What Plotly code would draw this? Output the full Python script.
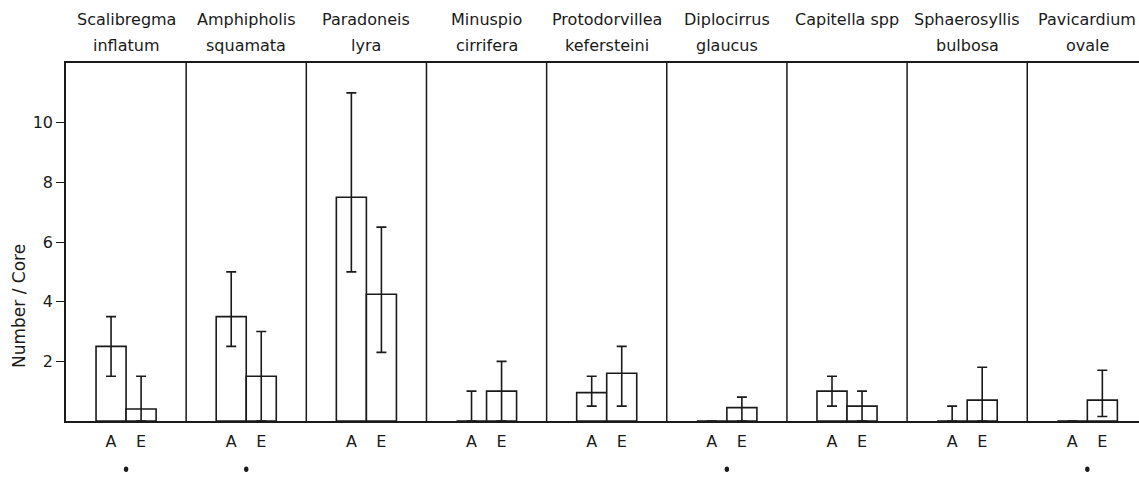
import plotly.graph_objects as go

# ---- data ----
species = ["Scalibregma<br>inflatum", "Amphipholis<br>squamata", "Paradoneis<br>lyra",
           "Minuspio<br>cirrifera", "Protodorvillea<br>kefersteini", "Diplocirrus<br>glaucus",
           "Capitella spp", "Sphaerosyllis<br>bulbosa", "Pavicardium<br>ovale"]
groups = ["A", "E"]

A_mean = [2.5, 3.5, 7.5, 0.0, 0.95, 0.0, 1.0, 0.0, 0.0]
A_low = [1.5, 2.5, 5.0, 0.0, 0.5, 0.0, 0.5, 0.0, 0.0]
A_high = [3.5, 5.0, 11.0, 1.0, 1.5, 0.0, 1.5, 0.5, 0.0]

E_mean = [0.4, 1.5, 4.25, 1.0, 1.6, 0.45, 0.5, 0.7, 0.7]
E_low = [0.0, 0.0, 2.3, 0.0, 0.5, 0.0, 0.0, 0.0, 0.15]
E_high = [1.5, 3.0, 6.5, 2.0, 2.5, 0.8, 1.0, 1.8, 1.7]

marked = [0, 1, 5, 8]          # panels with a marker below (cut off at image edge)
y_ticks = [2, 4, 6, 8, 10]

INK = "#1a1a1a"
FONT = "DejaVu Sans"
n = len(species)
offsets = [0.375, 0.625]
bar_w = 0.25

fig = go.Figure()
for g, off, mean, lo, hi in [("A", offsets[0], A_mean, A_low, A_high),
                             ("E", offsets[1], E_mean, E_low, E_high)]:
    fig.add_trace(go.Bar(
        x=[i + off for i in range(n)],
        y=mean,
        width=bar_w,
        name=g,
        marker=dict(color="white", line=dict(color=INK, width=1.6)),
        error_y=dict(type="data", symmetric=False,
                     array=[h - m for h, m in zip(hi, mean)],
                     arrayminus=[m - l for m, l in zip(mean, lo)],
                     color=INK, thickness=1.6, width=5),
        showlegend=False,
    ))

tickvals, ticktext = [], []
for i in range(n):
    for off, g in zip(offsets, groups):
        tickvals.append(i + off)
        ticktext.append(g)

# panel dividers
shapes = []
for i in range(1, n):
    shapes.append(dict(type="line", xref="x", yref="paper", x0=i, x1=i, y0=0, y1=1,
                       line=dict(color=INK, width=1.5)))
# tops of the markers below some panels (cut off at the image edge)
for i in marked:
    shapes.append(dict(type="circle", xref="x", yref="paper",
                       xsizemode="pixel", ysizemode="pixel",
                       xanchor=i + 0.5, yanchor=0,
                       x0=-2.2, x1=2.2, y0=-51, y1=-45.5,
                       fillcolor=INK, line=dict(width=0)))

annotations = []
for i, name in enumerate(species):
    lines = name.split("<br>")
    for k, txt in enumerate(lines):
        annotations.append(dict(x=i + 0.5, xref="x", y=1, yref="paper",
                                xanchor="center", yanchor="middle", yshift=44 - 26 * k,
                                text=txt, showarrow=False,
                                font=dict(family=FONT, size=16, color=INK)))
annotations.append(dict(x=0, xref="paper", xshift=-47, xanchor="center",
                        y=0, yref="paper", yshift=115, yanchor="middle",
                        text="Number / Core", textangle=-90, showarrow=False,
                        font=dict(family=FONT, size=17, color=INK)))

fig.update_layout(
    width=1139, height=477,
    margin=dict(l=66, r=0, t=63, b=56),
    paper_bgcolor="white", plot_bgcolor="white",
    barmode="overlay",
    shapes=shapes, annotations=annotations,
    font=dict(family=FONT, color=INK),
)
fig.update_xaxes(range=[0, 8.93], tickvals=tickvals, ticktext=ticktext,
                 showgrid=False, zeroline=False, showline=True, mirror=True,
                 linecolor=INK, linewidth=1.5, ticks="", ticklabelstandoff=5,
                 tickfont=dict(family=FONT, size=16, color=INK))
fig.update_yaxes(range=[0, 12], tickvals=y_ticks, showgrid=False, zeroline=False,
                 showline=True, linecolor=INK, linewidth=1.5,
                 ticks="outside", ticklen=8, tickwidth=1.2, tickcolor=INK,
                 tickfont=dict(family=FONT, size=16, color=INK))

fig.write_html("out.html", config={"displayModeBar": False},
               post_script="document.body.style.margin='0';")
